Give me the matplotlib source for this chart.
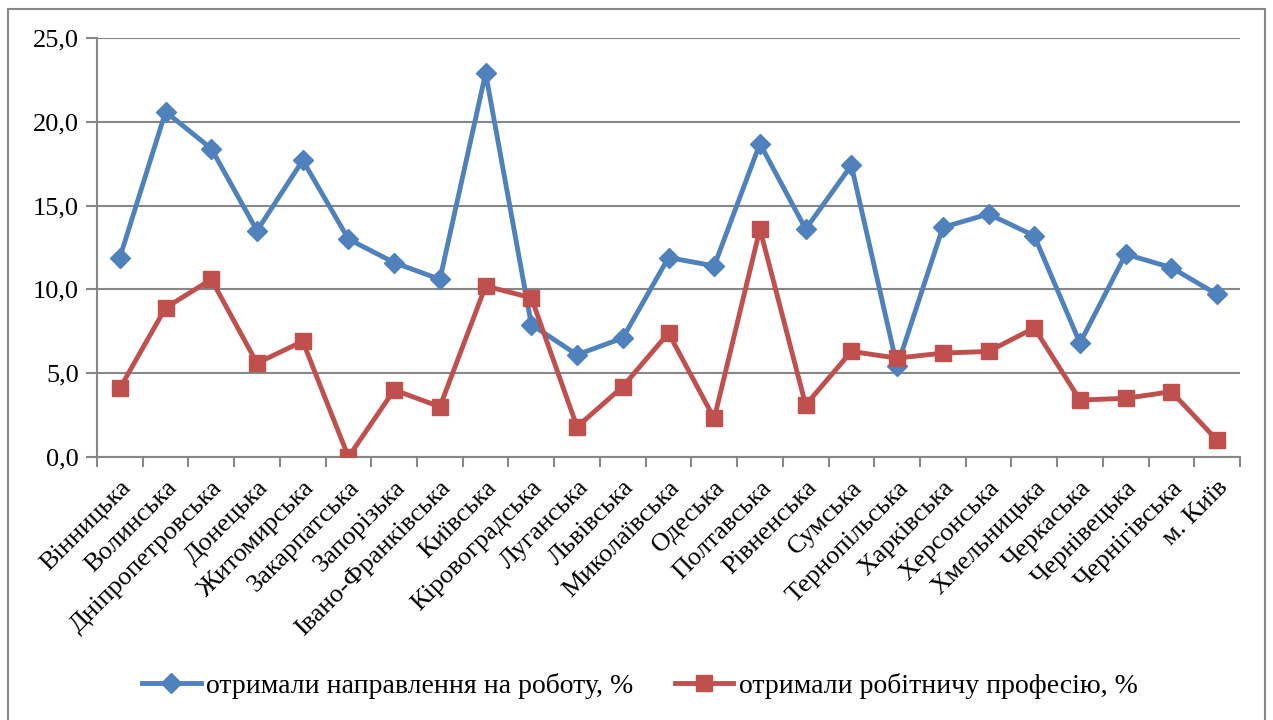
import numpy as np
import matplotlib.pyplot as plt
from matplotlib.patches import Rectangle

# Regions
regions = ['Вінницька', 'Волинська', 'Дніпропетровська', 'Донецька', 'Житомирська',
           'Закарпатська', 'Запорізька', 'Івано-Франківська', 'Київська', 'Кіровоградська',
           'Луганська', 'Львівська', 'Миколаївська', 'Одеська', 'Полтавська',
           'Рівненська', 'Сумська', 'Тернопільська', 'Харківська', 'Херсонська',
           'Хмельницька', 'Черкаська', 'Чернівецька', 'Чернігівська', 'м. Київ']

# отримали направлення на роботу, %
sent_to_work = [11.9, 20.6, 18.4, 13.5, 17.7, 13.0, 11.6, 10.6, 22.9, 7.9,
                6.1, 7.1, 11.9, 11.4, 18.7, 13.6, 17.4, 5.4, 13.7, 14.5,
                13.2, 6.8, 12.1, 11.3, 9.7]
# отримали робітничу професію, %
got_profession = [4.1, 8.9, 10.6, 5.6, 6.9, 0.0, 4.0, 3.0, 10.2, 9.5,
                  1.8, 4.2, 7.4, 2.3, 13.6, 3.1, 6.3, 5.9, 6.2, 6.3,
                  7.7, 3.4, 3.5, 3.9, 1.0]

plt.rcParams['font.family'] = ['Liberation Serif', 'DejaVu Serif']

fig = plt.figure(figsize=(12.73, 7.2), dpi=100)
ax = fig.add_axes([97/1273, 1-457/720, (1240-97)/1273, (457-38)/720])

x = np.arange(len(regions))
ax.plot(x, sent_to_work, color='#4F81BD', lw=3.5, marker='D', ms=10,
        label='отримали направлення на роботу, %', zorder=3)
ax.plot(x, got_profession, color='#C0504D', lw=3.5, marker='s', ms=12,
        label='отримали робітничу професію, %', zorder=3)

ax.set_xlim(-0.5, len(regions)-0.5)
ax.set_ylim(0, 25)
ax.set_yticks(np.arange(0, 26, 5))
ax.set_yticklabels([f'{v:.1f}'.replace('.', ',') for v in np.arange(0, 26, 5)], fontsize=19)
ax.yaxis.grid(True, color='#878787', lw=1.5)
ax.set_axisbelow(True)

ax.set_xticks(x)
ax.set_xticklabels(regions, rotation=45, ha='right', rotation_mode='anchor', fontsize=19)
ax.set_xticks(np.arange(-0.5, len(regions), 1), minor=True)
ax.tick_params(axis='x', which='major', length=0, pad=14)
ax.tick_params(axis='x', which='minor', length=7, width=1.5, color='#878787')
ax.tick_params(axis='y', length=8, width=1.5, color='#878787', pad=5)

for s in ['top', 'right']:
    ax.spines[s].set_visible(False)
for s in ['left', 'bottom']:
    ax.spines[s].set_color('#878787')
    ax.spines[s].set_linewidth(1.5)

fig.legend(loc='center', bbox_to_anchor=(640/1273, 1-686/720), ncol=2, frameon=False,
           fontsize=20, handlelength=2.1, columnspacing=1.5, handletextpad=0.2)

fig.patches.append(Rectangle((8/1273, -0.05), 1257/1273, 1.05-9/720, transform=fig.transFigure,
                             fill=False, ec='#878787', lw=1.5))

fig.savefig('out.png', dpi=100)
